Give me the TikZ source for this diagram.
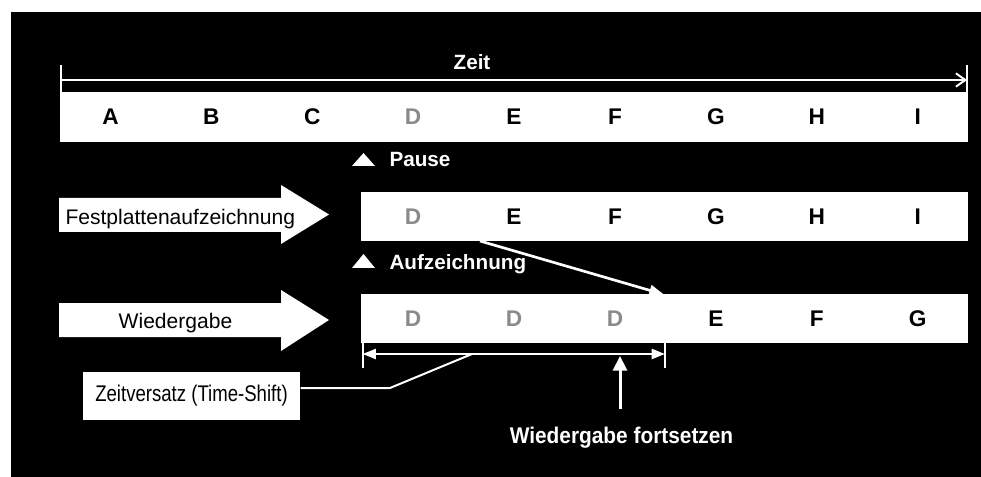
\documentclass[tikz,border=0pt]{standalone}
\usepackage{fontspec}
\setmainfont{Liberation Sans}
\usetikzlibrary{arrows.meta}

\definecolor{dgrey}{RGB}{138,138,138}
\tikzset{every picture/.style={line width=0.75pt}}
\tikzset{
  cell/.style={inner sep=0pt, font=\fontsize{17}{19}\selectfont\bfseries},
  wlabel/.style={text=white, inner sep=0.75pt, font=\fontsize{15.5}{18}\selectfont\bfseries},
  wline/.style={draw=white, line width=1.5},
}

\begin{document}
\begin{tikzpicture}[x=0.75pt,y=0.75pt,yscale=-1,xscale=1]
\useasboundingbox (0,0) rectangle (981,477);
%Shape: Rectangle [background]
\fill [white] (0,0) rectangle (981,477);
\fill [black] (11,12) rectangle (981,477);

%Shape: Rectangle [Zeit bar]
\fill [white] (60,92) rectangle (968,142);
%Shape: Rectangle [Festplatte bar]
\fill [white] (361,192) rectangle (968,241);
%Shape: Rectangle [Wiedergabe bar]
\fill [white] (361,294) rectangle (968,343);

% Text Node (cells)
\foreach \l/\c [count=\i] in {A/black,B/black,C/black,D/dgrey,E/black,F/black,G/black,H/black,I/black}
  \node [cell, text=\c] (t\i) at ({60+(\i-0.5)*100.9},117) {\l};
\foreach \l/\c [count=\i from 4] in {D/dgrey,E/black,F/black,G/black,H/black,I/black}
  \node [cell, text=\c] (r\i) at ({60+(\i-0.5)*100.9},216.5) {\l};
\foreach \l/\c [count=\i from 4] in {D/dgrey,D/dgrey,D/dgrey,E/black,F/black,G/black}
  \node [cell, text=\c] (p\i) at ({60+(\i-0.5)*100.9},318.5) {\l};

%Straight Lines [Zeit axis]
\coordinate (zeitL) at (61,80);
\coordinate (zeitR) at (967,80);
\draw [wline, -{Straight Barb[length=7pt,width=10pt]}] (zeitL) -- (zeitR);
\draw [wline] (61,65) -- (61,92);
\draw [wline] (967,65) -- (967,142);
% Text Node
\node [wlabel] (zeit) at (472,62) {Zeit};

%Shape: Triangle [Pause]
\fill [white] (352,166) -- (363.5,153) -- (375,166) -- cycle;
% Text Node
\node [wlabel, anchor=base west] (pause) at (388,167) {Pause};
%Shape: Triangle [Aufzeichnung]
\fill [white] (352,268) -- (363.5,254) -- (375,268) -- cycle;
% Text Node
\node [wlabel, anchor=base west] (aufz) at (388,270) {Aufzeichnung};

%Shape: Block arrow [Festplattenaufzeichnung]
\fill [white] (59,198) -- (281,198) -- (281,185) -- (329,214.5) -- (281,244) -- (281,232) -- (59,232) -- cycle;
% Text Node
\node [anchor=base west, inner sep=0pt, font=\fontsize{15.8}{18}\selectfont] (festpl) at (65,225) {Festplattenaufzeichnung};
%Shape: Block arrow [Wiedergabe]
\fill [white] (59,303) -- (281,303) -- (281,290) -- (329,320) -- (281,351) -- (281,337) -- (59,337) -- cycle;
% Text Node
\node [anchor=base, inner sep=0pt, font=\fontsize{15.8}{18}\selectfont] (wiederg) at (175.5,328) {Wiedergabe};

%Straight Lines [recorded D goes to playback]
\coordinate (recD) at (480,241);
\coordinate (playE) at (664,294.5);
\draw [draw=white, line width=2, -{Triangle[length=11pt,width=8pt]}] (recD) -- (playE);

%Straight Lines [Zeitversatz span]
\coordinate (dimL) at (362.5,354);
\coordinate (dimR) at (665,354);
\draw [wline, {Triangle[length=10pt,width=7.5pt]}-{Triangle[length=10pt,width=7.5pt]}] (dimL) -- (dimR);
\draw [wline] (362.5,343) -- (362.5,368);
\draw [wline] (665,343) -- (665,368);

% Text Node
\node [fill=white, inner sep=0pt, minimum width=162.75pt, minimum height=36pt, font=\fontsize{17}{19}\selectfont] (versatz) at (191.5,396) {\scalebox{0.82}[1]{Zeitversatz (Time-Shift)}};
\coordinate (dimtap) at (472,354);
\draw [wline] ([yshift=-6pt]versatz.east) -- (390,388) -- (dimtap);

% Text Node
\node [wlabel, anchor=base, font=\fontsize{17}{19}\selectfont\bfseries] (fortsetzen) at (621.5,443) {\scalebox{0.92}[1]{Wiedergabe fortsetzen}};
\coordinate (resume) at (620,356);
\draw [draw=white, line width=2.25, -{Triangle[length=11pt,width=10.5pt]}] ([yshift=-12pt]fortsetzen.north -| resume) -- (resume);

\end{tikzpicture}
\end{document}
